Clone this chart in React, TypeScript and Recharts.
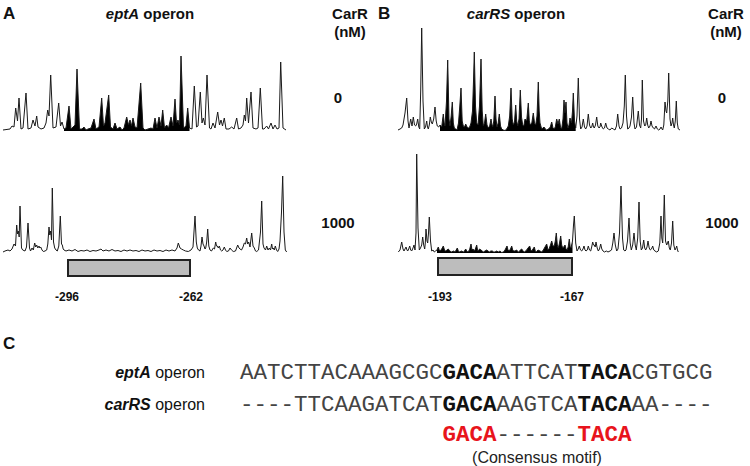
import { ComposedChart, Line, Area, XAxis, YAxis } from "recharts";

// ---- eptA, 0 nM ----
const aTopPos = [3,10,12,14,15.7,17.5,19,21,23,26,28,31,33,35,36.7,38,41,44,46,47.7,49,50.7,53,56,58.7,60.5,62,64,66,69,71,73,75,77,79.5,82,84,86,88,91,94,96,99,101.7,103.5,105,108.7,110.5,113,115,117,120,122,124,126.7,128.5,130,131.5,133,135,137,140.7,143,145,148,151,153,155,157,159,161,162.7,164.5,166.7,168.5,171,173,175,176.5,178,179.5,181,183.5,186,187.7,189.5,192,194.3,196.5,198,200.3,202,203.3,205,207,209.5,211,213,215,217.7,219.5,221,222.5,224.3,226,229,231.7,234,236.7,238.5,241,243,244.3,245.5,246.7,248.5,251,253,256,258,260.3,262.5,264,266.7,268.5,271,273,275,277,279,280.7,283,286];
const aTopVal = [1,2,5,4,23,10,33,2,3,38,2,3,11,5,15,4,2,3,8,21,15,56,3,4,28,5,9,2,3,25,2,4,6,62,2,2,4,1,2,3,12,2,4,33,5,8,36,4,2,8,2,4,1,3,14,6,11,5,13,4,3,48,3,1,2,3,2,13,3,14,5,21,3,6,3,14,5,32,8,11,6,75,3,5,23,3,2,45,4,5,39,8,13,6,56,3,2,8,3,19,6,11,5,13,2,2,4,2,13,2,3,6,16,10,33,8,39,3,2,3,43,2,2,5,2,8,2,6,2,3,69,3,1];

// ---- eptA, 1000 nM ----
const aBotPos = [3,5,8,10,12,14,15.5,16.7,17.5,18.3,19.2,20,21.5,22.7,25,26.5,28,29.5,30.5,32,33.3,34.7,35.7,36.7,37.8,39,39.8,40.7,42,43.3,45,46.7,47.8,49,49.8,50.7,51.5,52.3,53.5,54.7,56,57.3,58.8,60.3,61.5,62.3,63.2,64,66,69,72,75,78,81,84,87,90,93,96,99,101,103,106,109,112,115,118,121,124,127,130,133,136,139,142,145,148,151,154,157,160,163,166,169,172,175,177,178.3,180,181.5,183.3,185.5,188.3,191,193,195,196.3,197.3,198.5,200,201,202,203,204,205,205.7,206.7,207.7,208.8,210,211.5,213.3,214.5,215.7,216.5,217.3,218.3,219.3,220.5,221.7,223,224.3,225.5,226.7,228.5,230,231.5,233.3,235.5,237.7,239,240,241.5,243,244.3,245.5,246.7,247.7,248.7,250,251.7,253,254.3,255.5,256.7,258.5,260.5,261.7,263,264,265.5,266.7,268,269.3,270.5,271.7,272.5,273.3,274.3,275.3,276.5,277.7,279,280,281.5,282.7,284,285.3,286.7];
const aBotVal = [0,1,2,1,3,8,6,27,18,21,15,46,4,2,1,5,29,4,1,4,2,9,5,7,4,6,4,5,2,0.5,1,2,8,25,17,21,12,64,10,4,2,1,6,36,8,7,3,2,1,2,1,2.5,0.5,1.5,1,2,0.5,1.5,1,2,3,1,2,1,2.5,1,1.5,0.5,2,1,2,1,1.5,0.5,2,1,1.5,0.5,2,1,1.5,0.5,2,1,2,1,4,9,4,3,2,1,0.5,2,5,36,10,4,2,1,6,15,8,6,3,4,10,23,6,2,1,4,3,10,6,6,4,6,2,1,2,5,2,0.5,1,4,2,0.5,1,7,4,3,2,5,9,8,14,8,10,5,19,6,4,1,0.5,2,20,51,8,4,2,6,2,4,2,8,3,4,2,6,2,0.5,3,11,40,76,20,2,0];

// ---- carRS, 0 nM ----
const bTopPos = [398,400,401.7,403,405,406.7,408,409,410.7,412,413.3,414.5,415.7,416.7,417.7,418.8,419.7,420.7,421.7,423,424.3,425.5,426.7,427.5,428.3,429.3,430.3,431.3,432.3,433.7,435,436.2,437.3,438.7,440,441.7,443.3,444.2,445,446.5,447.7,449,450,451.2,452.3,453.3,454.3,455.7,457,458.5,459.8,461,462.2,463.3,464.5,465.7,467,468.3,469.7,471,472.5,473.5,474.3,475.5,476.7,478,479.5,481,482.2,483.3,484.5,485.7,487,488.3,489.7,491,491.8,492.7,493.8,495,496,497,498.2,499.3,500.5,501.7,503.3,505,506.7,508.3,509.7,511,512.2,513.3,514.5,515.7,516.7,517.7,519,520.3,521.5,522.7,523.8,525,526.7,528.3,529.3,530.3,531.8,533.3,534.5,535.7,537,538.3,539.2,540,541.7,543,544,545.3,546.7,548.5,550.3,551.7,553,554,555.3,556.7,558,559.3,560.5,561.7,563,564,565,566,567,568,569,570,571.5,572.5,573.3,574.5,575.7,577,578.3,579.5,580.7,582,583.3,584.5,585.7,587,588.3,589.5,590.7,591.7,592.7,593.5,594.3,595.5,596.7,597.8,599,600,600.7,602,603.3,604.5,605.7,607,608.3,610,611.7,613.3,615,616.5,617.7,619,620,621.5,623,624.3,625.3,626.5,627.7,629,630,631.5,632.7,634,635,636.5,638.3,639.5,640.7,641.5,642.3,643.5,644.7,645.7,646.7,647.7,648.7,650,651,652,653.3,654.5,656,657.3,658.7,660,661,662,662.7,663.8,665,666,666.7,667.8,668.7,670,671,672,672.7,673.5,674.3,675.3,676.3,677.3,678.3,680];
const bTopVal = [1,2,3,6,18,33,10,3,12,5,14,6,5,7,12,4,2,40,103,30,2,4,10,4,2,6,14,9,7,12,24,10,5,4,6,4,17,8,5,30,71,12,5,15,29,8,3,2,1,8,25,43,10,5,4,7,4,3,4,8,20,50,79,25,8,6,25,72,20,5,8,17,6,3,5,12,7,4,10,35,12,4,8,17,5,2,1,0.5,2,5,15,43,12,6,9,26,10,5,12,41,14,6,5,12,10,28,10,6,8,18,8,6,15,49,20,8,2,3,4,2,1,2,4,9,3,2,4,12,7,12,4,2,12,31,18,29,8,3,6,13,8,20,38,10,3,15,53,12,2,4,12,4,2,5,17,6,3,4,8,4,3,6,14,5,3,4,8,4,2,3,8,3,2,1,3,2,1,5,17,5,2,3,8,25,56,15,2,3,5,14,34,8,2,4,20,6,3,12,51,10,5,6,13,6,3,5,10,5,3,2,5,2,1,2,4,2,1,6,29,20,18,30,58,12,5,8,13,6,3,10,30,8,2,1];

// ---- carRS, 1000 nM ----
const bBotPos = [398.3,400,401.7,403,404,405,406,407,407.7,408.7,409.7,410.7,411.7,413,414,415,416,416.7,418,419.3,420.5,421.7,422.7,423.7,424.7,425.3,426,427,427.7,428.5,429.3,430.5,431.7,433,434.3,435.5,437,438.3,439.2,440,441.7,443.3,444.5,445.7,447,448.3,449.7,451.7,453.3,455,456.2,457.3,458.3,459.3,461.5,463.3,464.5,465.7,466.7,467.7,469.5,471,472,473,474.5,475.7,476.7,477.5,478.3,479.5,481,482.2,483.3,485,486.7,488,489.3,490.8,492.3,493.7,495,496.7,498.3,500,501.7,503.5,505,506,507,508,509,510.5,511.7,512.7,513.7,515,516.7,518,519,520.3,521.7,523,524.3,525.5,526.7,528,529.7,530.7,531.7,533,534.3,535.3,536.3,538,540,541.7,543.3,545,546.7,548,549,550.5,551.7,553,554.3,555.3,556.3,557.3,558.3,559.5,560.7,561.7,562.7,563.8,565,566,567,568.2,569.3,570.2,571,572.5,573.5,574.3,575.7,577,578.2,579.3,580.5,581.7,583,584,585,586,587.3,588.3,589.5,590.7,591.7,592.7,593.5,594.3,595.2,596,597.2,598.3,599.5,600.7,601.8,603,604.5,606.3,608,610,611.5,612.8,614,615.3,616.7,618,619.5,621,622.5,623.7,625,626,627.5,629,630.2,631.3,632.7,634,635.2,636.3,637.7,639,640.2,641.3,642.5,643.7,644.7,645.7,647,648,649.2,650.3,651.5,652.7,653.8,655,656.7,658.3,659.8,661,661.8,662.7,663.5,664.3,665.5,666.7,667.5,668.3,669.3,670.3,671.5,672.7,673.8,675,676,676.7,677.5,678.3];
const bBotVal = [1,3,11,4,2,4,6,3,2,4,7,3,2,5,8,3,20,99,25,3,5,8,16,8,4,10,24,12,10,20,36,12,2,3,1,2,3,6,3,2,4,7,3,2,3,4,2,1,2,1,3,5,2,1,2,1,2,4,2,1,3,9,3,4,2,5,8,3,2,4,3,2,1,2,3,2,1,2,2,1,1,2,1,2,0.5,1,3,5,7,3,2,4,7,3,2,2,3,1,1,3,4,2,1,2,3,5,7,3,2,4,6,2,1,3,2,1,3,6,9,3,4,8,12,7,7,12,20,8,5,10,17,8,5,6,8,4,3,6,14,6,5,12,28,37,10,2,4,7,3,2,4,7,3,2,3,7,3,2,6,11,8,8,6,11,5,2,4,9,4,2,1,2,1,2,3,10,20,8,2,4,20,67,15,3,2,3,12,35,10,3,8,20,8,3,15,51,12,3,5,13,5,3,6,12,5,3,4,7,3,2,1,2,10,37,15,10,30,58,12,8,10,12,5,3,10,32,8,3,5,7,3,1];

const aLabels = ["-296", "-262"];
const bLabels = ["-193", "-167"];
const concentrations = ["0", "1000"];

const eptASeq = [
  { t: "AATCTTACAAAGCGC", b: false },
  { t: "GACA", b: true },
  { t: "ATTCAT", b: false },
  { t: "TACA", b: true },
  { t: "CGTGCG", b: false },
];
const carRSSeq = [
  { t: "----TTCAAGATCAT", b: false },
  { t: "GACA", b: true },
  { t: "AAGTCA", b: false },
  { t: "TACA", b: true },
  { t: "AA----", b: false },
];
const consensus = [
  { t: "GACA", b: true, red: true },
  { t: "------", b: false, red: false },
  { t: "TACA", b: true, red: true },
];

const sans = "'Liberation Sans', Arial, sans-serif";
const mono = "'Liberation Mono', 'Courier New', monospace";

type TraceProps = {
  pos: number[];
  val: number[];
  left: number;
  top: number;
  width: number;
  maxY: number;
  fillRange?: [number, number];
};

function Trace({ pos, val, left, top, width, maxY, fillRange }: TraceProps) {
  const data = pos.map((p, i) => ({
    p,
    v: val[i],
    f: fillRange && p >= fillRange[0] && p <= fillRange[1] ? val[i] : null,
  }));
  return (
    <div style={{ position: "absolute", left, top }}>
      <ComposedChart width={width} height={maxY + 2} data={data} margin={{ top: 0, right: 0, bottom: 0, left: 0 }}>
        <XAxis type="number" dataKey="p" domain={[left, left + width]} allowDataOverflow hide />
        <YAxis type="number" domain={[-2, maxY]} allowDataOverflow hide />
        {fillRange && (
          <Area type="linear" dataKey="f" stroke="none" fill="#000" fillOpacity={1} isAnimationActive={false} />
        )}
        <Line type="linear" dataKey="v" stroke="#1a1a1a" strokeWidth={1} dot={false} isAnimationActive={false} />
      </ComposedChart>
    </div>
  );
}

function Txt({ x, y, children, size = 15, weight = 700, color = "#111", align = "center", family = sans }: any) {
  const tx = align === "center" ? "-50%" : align === "right" ? "-100%" : "0";
  return (
    <div
      style={{
        position: "absolute",
        left: x,
        top: y,
        transform: `translate(${tx}, -50%)`,
        fontFamily: family,
        fontSize: size,
        fontWeight: weight,
        color,
        whiteSpace: "pre",
        lineHeight: 1,
      }}
    >
      {children}
    </div>
  );
}

function Box({ left, top, width, height }: any) {
  return (
    <div
      style={{
        position: "absolute",
        left,
        top,
        width,
        height,
        boxSizing: "border-box",
        background: "#bdbdbd",
        border: "2px solid #222",
      }}
    />
  );
}

function Seq({ x, y, parts }: any) {
  return (
    <Txt x={x} y={y} size={22.5} weight={400} color="#444" align="left" family={mono}>
      {parts.map((s: any, i: number) => (
        <span key={i} style={{ fontWeight: s.b ? 700 : 400, color: s.red ? "#e8141c" : s.b ? "#111" : "#444" }}>
          {s.t}
        </span>
      ))}
    </Txt>
  );
}

export default function App() {
  return (
    <div style={{ position: "absolute", left: 0, top: 0, width: 750, height: 466, background: "#fff", overflow: "hidden" }}>
      {/* panel A */}
      <Txt x={3} y={13} size={17} align="left">A</Txt>
      <Txt x={150} y={13}>
        <i>eptA</i> operon
      </Txt>
      <Txt x={350} y={13}>CarR</Txt>
      <Txt x={350} y={31}>(nM)</Txt>
      <Txt x={338} y={97}>{concentrations[0]}</Txt>
      <Txt x={338} y={222}>{concentrations[1]}</Txt>
      <Trace pos={aTopPos} val={aTopVal} left={3} top={51} width={284} maxY={80} fillRange={[64, 191]} />
      <Trace pos={aBotPos} val={aBotVal} left={3} top={170} width={284} maxY={82} />
      <Box left={67} top={259} width={124} height={18} />
      <Txt x={67} y={297} size={12}>{aLabels[0]}</Txt>
      <Txt x={191} y={297} size={12}>{aLabels[1]}</Txt>

      {/* panel B */}
      <Txt x={378} y={13} size={17} align="left">B</Txt>
      <Txt x={516} y={13}>
        <i>carRS</i> operon
      </Txt>
      <Txt x={726} y={13}>CarR</Txt>
      <Txt x={726} y={31}>(nM)</Txt>
      <Txt x={722} y={97}>{concentrations[0]}</Txt>
      <Txt x={722} y={222}>{concentrations[1]}</Txt>
      <Trace pos={bTopPos} val={bTopVal} left={396} top={23} width={288} maxY={108} fillRange={[440, 576.5]} />
      <Trace pos={bBotPos} val={bBotVal} left={396} top={149} width={288} maxY={104} fillRange={[437, 573]} />
      <Box left={437} top={257} width={136} height={19} />
      <Txt x={440} y={297} size={12}>{bLabels[0]}</Txt>
      <Txt x={572} y={297} size={12}>{bLabels[1]}</Txt>

      {/* panel C */}
      <Txt x={3} y={343} size={17} align="left">C</Txt>
      <Txt x={205} y={373} size={16} weight={400} align="right">
        <b><i>eptA</i></b> operon
      </Txt>
      <Txt x={205} y={405} size={16} weight={400} align="right">
        <b><i>carRS</i></b> operon
      </Txt>
      <Seq x={240} y={373} parts={eptASeq} />
      <Seq x={240} y={405} parts={carRSSeq} />
      <Seq x={442.5} y={435} parts={consensus} />
      <Txt x={537} y={458} size={16} weight={400} color="#222">(Consensus motif)</Txt>
    </div>
  );
}
